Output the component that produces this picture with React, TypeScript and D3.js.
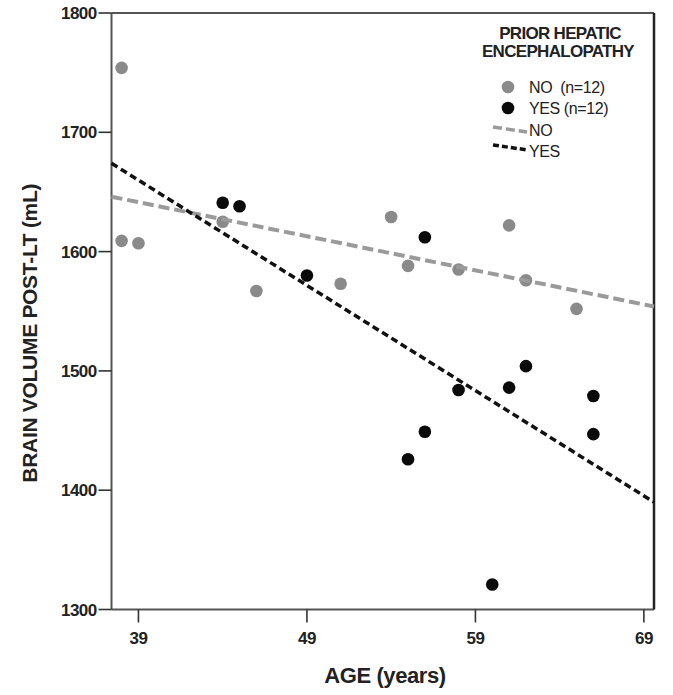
import * as d3 from 'd3'

// Scatter data (age in years, brain volume in mL)
const NO_AGE = [38, 38, 39, 44, 46, 51, 54, 55, 58, 61, 62, 65]
const NO_VOL = [1754, 1609, 1607, 1625, 1567, 1573, 1629, 1588, 1585, 1622, 1576, 1552]
const YES_AGE = [44, 45, 49, 56, 62, 61, 58, 66, 66, 56, 55, 60]
const YES_VOL = [1641, 1638, 1580, 1612, 1504, 1486, 1484, 1479, 1447, 1449, 1426, 1321]

// Fit lines, endpoints at the frame edges
const FIT_AGE = [37.4, 69.6]
const NO_FIT = [1646, 1554]
const YES_FIT = [1674, 1390]

const X_TICKS = [39, 49, 59, 69]
const Y_TICKS = [1300, 1400, 1500, 1600, 1700, 1800]

const W = 673
const H = 695
const FRAME = { left: 111.5, right: 654, top: 13, bottom: 609.5 }
const FONT = 'Liberation Sans, Arial, sans-serif'
const GRAY = '#8a8a8a'
const GRAY_LINE = '#9a9a9a'

export default function App() {
  const x = d3.scaleLinear().domain([FIT_AGE[0], FIT_AGE[1]]).range([FRAME.left, FRAME.right])
  const y = d3.scaleLinear().domain([1300, 1800]).range([FRAME.bottom, FRAME.top])

  const line = d3.line<[number, number]>().x(d => x(d[0])).y(d => y(d[1]))
  const noPath = line(FIT_AGE.map((a, i) => [a, NO_FIT[i]] as [number, number])) || ''
  const yesPath = line(FIT_AGE.map((a, i) => [a, YES_FIT[i]] as [number, number])) || ''

  return (
    <svg width={W} height={H} style={{ position: 'absolute', left: 0, top: 0, background: '#fff' }}>
      {/* frame */}
      <line x1={FRAME.left} y1={FRAME.top} x2={FRAME.right} y2={FRAME.top} stroke="#555" strokeWidth={2} />
      <line x1={FRAME.left} y1={FRAME.top} x2={FRAME.left} y2={FRAME.bottom} stroke="#555" strokeWidth={2} />
      <line x1={FRAME.left} y1={FRAME.bottom} x2={FRAME.right} y2={FRAME.bottom} stroke="#555" strokeWidth={2} />
      <line x1={FRAME.right} y1={FRAME.top} x2={FRAME.right} y2={FRAME.bottom} stroke="#222" strokeWidth={2.5} />

      {/* y ticks */}
      {Y_TICKS.map(t => (
        <g key={t}>
          <line x1={FRAME.left - 13} x2={FRAME.left} y1={y(t)} y2={y(t)} stroke="#333" strokeWidth={1.6} />
          <text x={FRAME.left - 15} y={y(t)} dy="0.36em" textAnchor="end" fontFamily={FONT}
            fontWeight="bold" fontSize={17} letterSpacing={-0.6} fill="#222">{t}</text>
        </g>
      ))}

      {/* x ticks */}
      {X_TICKS.map(t => (
        <g key={t}>
          <line x1={x(t)} x2={x(t)} y1={FRAME.bottom} y2={FRAME.bottom + 13} stroke="#333" strokeWidth={1.6} />
          <text x={x(t)} y={644} textAnchor="middle" fontFamily={FONT}
            fontWeight="bold" fontSize={17} letterSpacing={-0.6} fill="#222">{t}</text>
        </g>
      ))}

      {/* axis titles */}
      <text x={385} y={683} textAnchor="middle" fontFamily={FONT} fontWeight="bold" fontSize={22} letterSpacing={-0.4} fill="#222">AGE (years)</text>
      <text transform={`translate(37,${(FRAME.top + FRAME.bottom) / 2 + 22}) rotate(-90)`} textAnchor="middle"
        fontFamily={FONT} fontWeight="bold" fontSize={21} letterSpacing={-0.3} fill="#222">BRAIN VOLUME POST-LT (mL)</text>

      {/* points */}
      {NO_AGE.map((a, i) => (
        <circle key={'n' + i} cx={x(a)} cy={y(NO_VOL[i])} r={6.3} fill={GRAY} />
      ))}
      {YES_AGE.map((a, i) => (
        <circle key={'y' + i} cx={x(a)} cy={y(YES_VOL[i])} r={6.3} fill="#0a0a0a" />
      ))}

      {/* fit lines */}
      <path d={noPath} fill="none" stroke={GRAY_LINE} strokeWidth={4} strokeDasharray="11,5" />
      <path d={yesPath} fill="none" stroke="#111" strokeWidth={3.5} strokeDasharray="7,4" />

      {/* legend */}
      <g fontFamily={FONT} fill="#222">
        <text x={560} y={39} textAnchor="middle" fontWeight="bold" fontSize={17} letterSpacing={-0.7}>PRIOR HEPATIC</text>
        <text x={558} y={57} textAnchor="middle" fontWeight="bold" fontSize={17} letterSpacing={-0.7}>ENCEPHALOPATHY</text>
        <circle cx={508} cy={87} r={6.3} fill={GRAY} />
        <text x={529} y={93} fontSize={16} letterSpacing={-0.4}>NO&#160;&#160;(n=12)</text>
        <circle cx={508} cy={108} r={6.3} fill="#0a0a0a" />
        <text x={529} y={114} fontSize={16} letterSpacing={-0.4}>YES (n=12)</text>
        <line x1={493} y1={127} x2={527} y2={132} stroke={GRAY_LINE} strokeWidth={3.5} strokeDasharray="9,4" />
        <text x={529} y={136} fontSize={16} letterSpacing={-0.4}>NO</text>
        <line x1={493} y1={145} x2={528} y2={150} stroke="#111" strokeWidth={3.5} strokeDasharray="6,3" />
        <text x={529} y={157} fontSize={16} letterSpacing={-0.4}>YES</text>
      </g>
    </svg>
  )
}
